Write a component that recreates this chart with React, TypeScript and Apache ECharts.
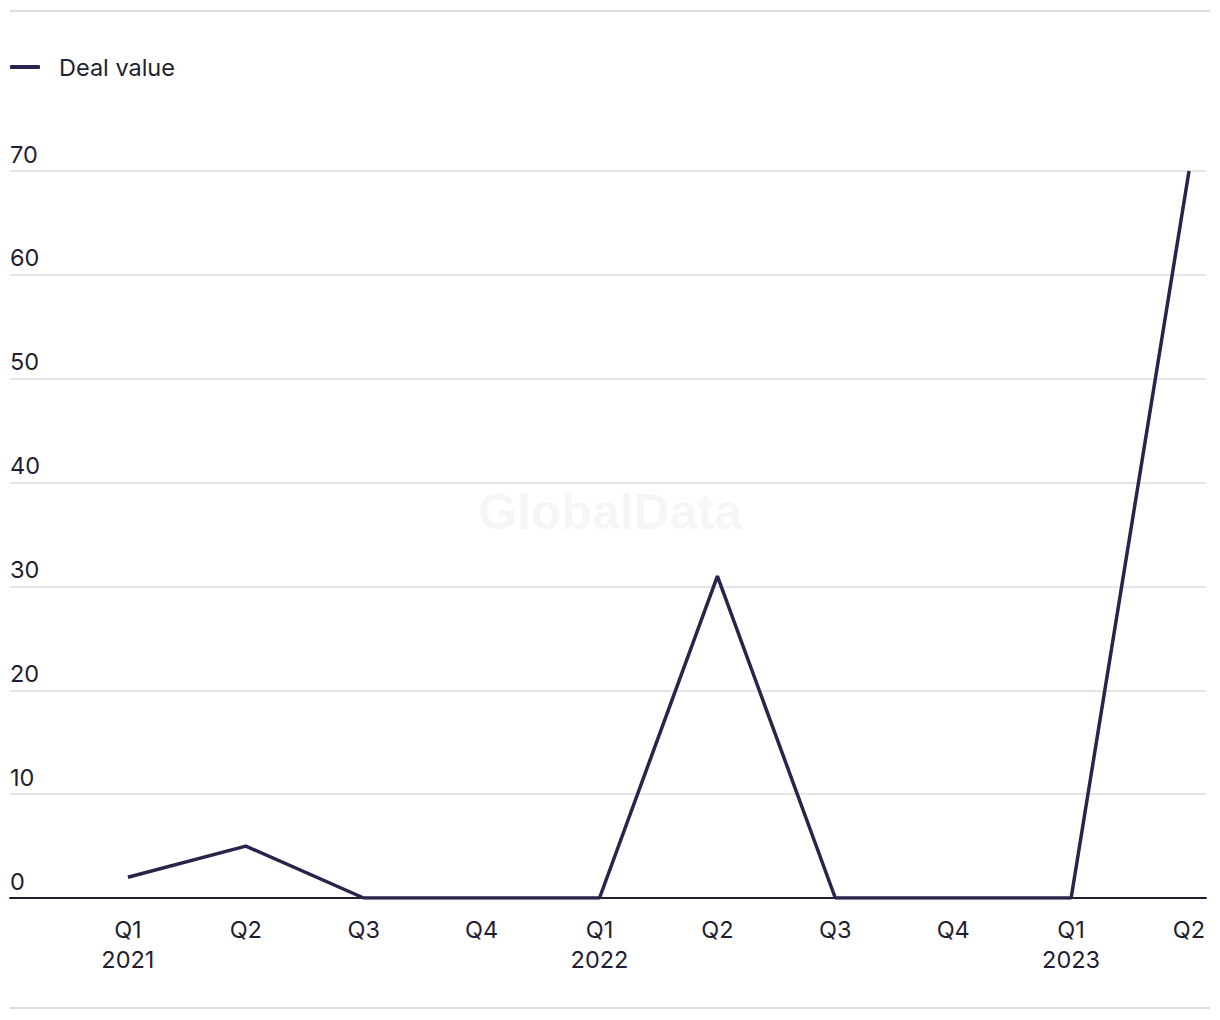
import React, { useEffect, useRef } from "react";
import * as echarts from "echarts";

const quarters = ["Q1\n2021", "Q2", "Q3", "Q4", "Q1\n2022", "Q2", "Q3", "Q4", "Q1\n2023", "Q2"];
const dealValue = [2, 5, 0, 0, 0, 31, 0, 0, 0, 70];
const seriesName = "Deal value";

const FONT = "Inter, 'Noto Sans', sans-serif";
const TEXT = "#1f1f33";
const LINE = "#27264a";
const GRID = "#dcdcdc";

export default function App() {
  const ref = useRef<HTMLDivElement>(null);
  useEffect(() => {
    if (!ref.current) return;
    const chart = echarts.init(ref.current, undefined, { renderer: "svg" });
    const data = dealValue.map((v, i) => [i, v]);
    chart.setOption({
      animation: false,
      backgroundColor: "#ffffff",
      textStyle: { fontFamily: FONT },
      legend: {
        left: 10,
        top: 54,
        padding: 0,
        icon: "roundRect",
        itemWidth: 30,
        itemHeight: 4,
        data: [seriesName],
        textStyle: { fontSize: 23.5, color: TEXT, fontFamily: FONT, padding: [0, 0, 0, 14], lineHeight: 26 },
      },
      grid: { left: 10, right: 14, top: 171, bottom: 122, containLabel: false },
      xAxis: {
        type: "value",
        min: -1,
        max: 9.144,
        interval: 1,
        axisLine: { show: true, lineStyle: { color: TEXT, width: 2 } },
        axisTick: { show: false },
        splitLine: { show: false },
        axisLabel: {
          showMaxLabel: false,
          showMinLabel: true,
          margin: 16,
          fontSize: 23.5,
          lineHeight: 30,
          color: TEXT,
          fontFamily: FONT,
          verticalAlign: "top",
          formatter: (v: number) => (Number.isInteger(v) && v >= 0 && v < quarters.length ? quarters[v] : ""),
        },
      },
      yAxis: {
        type: "value",
        min: 0,
        max: 70,
        interval: 10,
        axisLine: { show: false },
        axisTick: { show: false },
        splitLine: { show: true, lineStyle: { color: GRID, width: 1.5 } },
        axisLabel: {
          inside: true,
          margin: 0,
          fontSize: 23.5,
          color: TEXT,
          fontFamily: FONT,
          verticalAlign: "bottom",
          padding: [0, 0, 5, 0],
        },
      },
      graphic: [
        { type: "line", shape: { x1: 10, y1: 11, x2: 1210, y2: 11 }, style: { stroke: GRID, lineWidth: 2 } },
        { type: "line", shape: { x1: 10, y1: 1008, x2: 1210, y2: 1008 }, style: { stroke: GRID, lineWidth: 2 } },
        {
          type: "text",
          x: 610,
          y: 512,
          z: -10,
          style: {
            text: "GlobalData",
            fontSize: 50,
            fontWeight: "bold",
            fontFamily: "'Liberation Sans', Arial, sans-serif",
            fill: "#f6f6f6",
            align: "center",
            verticalAlign: "middle",
          },
        },
      ],
      series: [
        {
          name: seriesName,
          type: "line",
          data,
          showSymbol: false,
          symbol: "none",
          lineStyle: { color: LINE, width: 3.5 },
          itemStyle: { color: LINE },
        },
      ],
    });
    return () => chart.dispose();
  }, []);
  return <div ref={ref} style={{ position: "fixed", left: 0, top: 0, width: 1220, height: 1020 }} />;
}
